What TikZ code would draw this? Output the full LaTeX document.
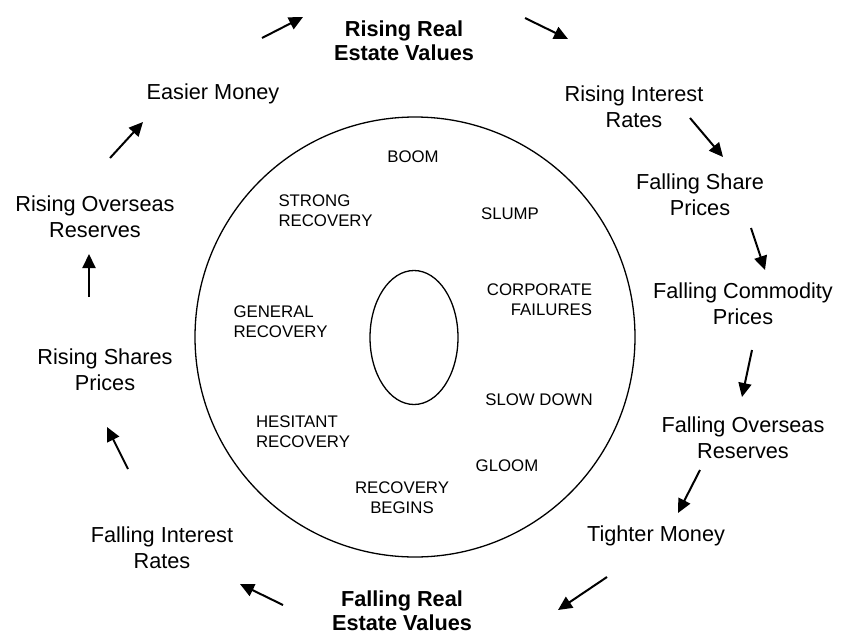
\documentclass[tikz,border=0pt]{standalone}
\usepackage{fontspec}
\setmainfont{Liberation Sans}
\usetikzlibrary{arrows.meta,shapes.geometric}
\tikzset{
  stage/.style={align=center,inner sep=0pt,font=\fontsize{21.7}{26}\selectfont},
  keystage/.style={stage,font=\fontsize{21.7}{24}\selectfont\bfseries},
  phase/.style={inner sep=0pt,font=\fontsize{16.8}{20}\selectfont},
  cyc/.style={-{Triangle[length=14pt,width=13pt]},line width=2pt},
}
\begin{document}
\begin{tikzpicture}
    \def\x{1pt}
    \def\y{-1pt}
    \useasboundingbox (0,0) rectangle (846*\x, 635*\y);
    % wheel
    \node (ring) [draw,circle,line width=1.3pt,inner sep=0pt,minimum size=440pt] at (415*\x, 337*\y) {};
    \node (core) [draw,ellipse,line width=1.3pt,inner sep=0pt,minimum width=88pt,minimum height=134pt] at (414*\x, 337.5*\y) {};
    % phases
    \node (B0) [phase] at (413*\x, 157*\y) {BOOM};
    \node (B1) [phase] at (510*\x, 214*\y) {SLUMP};
    \node (B2) [phase,align=right] at (539.5*\x, 300*\y) {CORPORATE\\FAILURES};
    \node (B3) [phase] at (539*\x, 400*\y) {SLOW DOWN};
    \node (B4) [phase] at (507*\x, 466*\y) {GLOOM};
    \node (B5) [phase,align=center] at (402*\x, 497.5*\y) {RECOVERY\\BEGINS};
    \node (B6) [phase,align=left] at (303*\x, 432*\y) {HESITANT\\RECOVERY};
    \node (B7) [phase,align=left] at (280.5*\x, 321.5*\y) {GENERAL\\RECOVERY};
    \node (B8) [phase,align=left] at (325.5*\x, 211*\y) {STRONG\\RECOVERY};
    % cycle
    \node (A0) [keystage] at (404*\x, 41*\y) {Rising Real\\Estate Values};
    \node (A1) [stage] at (634*\x, 107*\y) {Rising Interest\\Rates};
    \node (A2) [stage] at (700*\x, 195*\y) {Falling Share\\Prices};
    \node (A3) [stage] at (743*\x, 304*\y) {Falling Commodity\\Prices};
    \node (A4) [stage] at (743*\x, 438*\y) {Falling Overseas\\Reserves};
    \node (A5) [stage] at (656*\x, 536*\y) {Tighter Money};
    \node (A6) [keystage] at (402*\x, 611*\y) {Falling Real\\Estate Values};
    \node (A7) [stage] at (162*\x, 548*\y) {Falling Interest\\Rates};
    \node (A8) [stage] at (105*\x, 370*\y) {Rising Shares\\Prices};
    \node (A9) [stage] at (95*\x, 217*\y) {Rising Overseas\\Reserves};
    \node (A10) [stage] at (213*\x, 94*\y) {Easier Money};
    % arrow ends
    \coordinate (t0) at (525*\x, 18*\y);  \coordinate (h0) at (568*\x, 39*\y);
    \coordinate (t1) at (690*\x, 118*\y); \coordinate (h1) at (723*\x, 157*\y);
    \coordinate (t2) at (751*\x, 228*\y); \coordinate (h2) at (765*\x, 270*\y);
    \coordinate (t3) at (752*\x, 350*\y); \coordinate (h3) at (742*\x, 397*\y);
    \coordinate (t4) at (700*\x, 470*\y); \coordinate (h4) at (678*\x, 513*\y);
    \coordinate (t5) at (607*\x, 577*\y); \coordinate (h5) at (558*\x, 610*\y);
    \coordinate (t6) at (283*\x, 605*\y); \coordinate (h6) at (240*\x, 584*\y);
    \coordinate (t7) at (128*\x, 469*\y); \coordinate (h7) at (107*\x, 427*\y);
    \coordinate (t8) at (89*\x, 297*\y);  \coordinate (h8) at (89*\x, 254*\y);
    \coordinate (t9) at (110*\x, 158*\y); \coordinate (h9) at (143*\x, 122*\y);
    \coordinate (t10) at (262*\x, 38*\y); \coordinate (h10) at (303*\x, 17*\y);
    \foreach \i in {0,...,10}
      \path (t\i) edge [cyc] (h\i);
  \end{tikzpicture}
\end{document}
